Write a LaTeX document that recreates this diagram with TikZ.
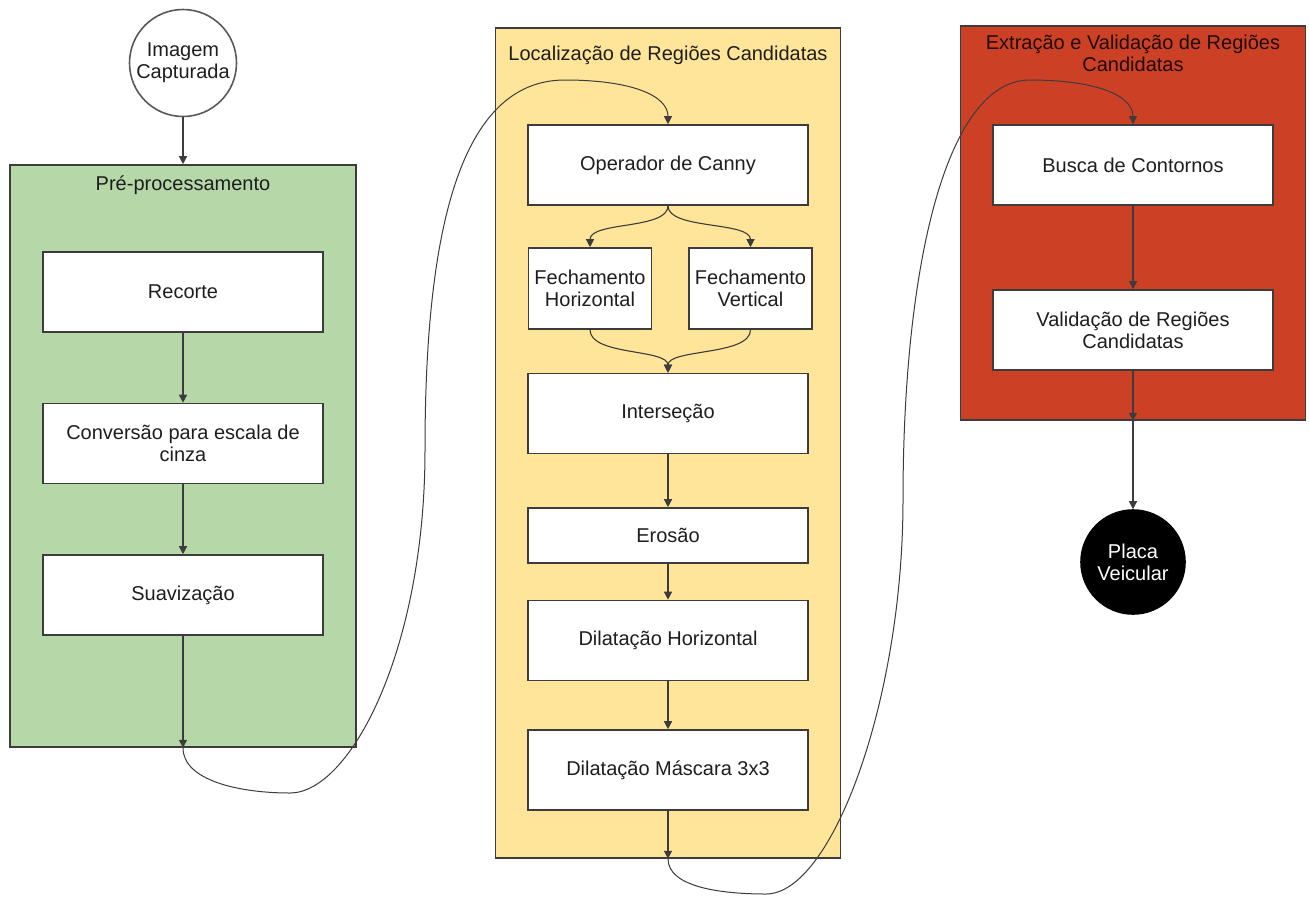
\documentclass[tikz,border=0pt]{standalone}
\usepackage{fontspec}
\setmainfont{Liberation Sans}
\usetikzlibrary{arrows.meta}
\definecolor{grn}{HTML}{B6D7A8}
\definecolor{ylw}{HTML}{FFE599}
\definecolor{rdb}{HTML}{CC4125}
\definecolor{edge}{HTML}{3C3C3C}
\definecolor{txt}{HTML}{1E1E1E}
\tikzset{
  group/.style={draw=edge, line width=1.6pt, rectangle, inner sep=0pt},
  grouptitle/.style={text=txt, font=\fontsize{20}{22}\selectfont, align=center, inner sep=0pt},
  stepbox/.style={draw=edge, line width=1.6pt, fill=white, rectangle, minimum width=280pt, minimum height=80pt, inner sep=2pt, text=txt, font=\fontsize{20}{22}\selectfont, align=center},
  smallbox/.style={stepbox, minimum width=123pt, minimum height=81pt, inner sep=0pt},
  terminal/.style={circle, line width=1.6pt, minimum size=107pt, inner sep=0pt, font=\fontsize{20}{22}\selectfont, align=center},
  flow/.style={draw=edge, line width=1.3pt, -{Triangle[length=8pt,width=8pt]}},
  curvy/.style={draw=edge, line width=1pt, -{Triangle[length=8pt,width=8pt]}},
}
\begin{document}
\begin{tikzpicture}[x=1pt, y=-1pt]
\useasboundingbox[fill=white] (0,0) rectangle (1309,903);

% groups
\node[group, fill=grn, minimum width=346pt, minimum height=582pt] (green) at (183,456) {};
\node[group, fill=ylw, minimum width=345pt, minimum height=830pt] (yellow) at (668,443) {};
\node[group, fill=rdb, minimum width=345pt, minimum height=394pt] (red) at (1133,223) {};

\node[grouptitle] (gt) at (183,185) {Pré-processamento};
\node[grouptitle] (yt) at (668,55) {Localização de Regiões Candidatas};
\node[grouptitle, text=black!85!rdb] (rt) at (1133,53) {Extração e Validação de Regiões\\Candidatas};

% terminals
\node[terminal, draw=black!65, fill=white, text=txt] (img) at (183,63) {Imagem\\Capturada};
\node[terminal, draw=black, fill=black, text=white, minimum size=104pt] (placa) at (1133,562) {Placa\\Veicular};

% pre-processing
\node[stepbox] (recorte) at (183,292) {Recorte};
\node[stepbox] (conv) at (183,443.5) {Conversão para escala de\\cinza};
\node[stepbox] (suav) at (183,595) {Suavização};

% localization
\node[stepbox] (canny) at (668,165) {Operador de Canny};
\node[smallbox] (fechH) at (590,288.5) {Fechamento\\Horizontal};
\node[smallbox] (fechV) at (750.5,288.5) {Fechamento\\Vertical};
\node[stepbox] (inter) at (668,413.5) {Interseção};
\node[stepbox, minimum height=55pt] (eros) at (668,535.5) {Erosão};
\node[stepbox] (dilH) at (668,640.5) {Dilatação Horizontal};
\node[stepbox] (dilM) at (668,770) {Dilatação Máscara 3x3};

% extraction
\node[stepbox] (busca) at (1133,165) {Busca de Contornos};
\node[stepbox] (valid) at (1133,330) {Validação de Regiões\\Candidatas};

% straight connectors
\draw[flow] (img.south) -- (green.north);
\draw[flow] (recorte.south) -- (conv.north);
\draw[flow] (conv.south) -- (suav.north);
\draw[flow] (suav.south) -- (green.south);
\draw[flow] (inter.south) -- (eros.north);
\draw[flow] (eros.south) -- (dilH.north);
\draw[flow] (dilH.south) -- (dilM.north);
\draw[flow] (dilM.south) -- (yellow.south);
\draw[flow] (busca.south) -- (valid.north);
\draw[flow] (valid.south) -- (red.south);
\draw[flow] (red.south) -- (placa.north);

% split and merge
\draw[flow, line width=1.1pt] (canny.south) .. controls +(0,24) and +(0,-26) .. (fechH.north);
\draw[flow, line width=1.1pt] (canny.south) .. controls +(0,24) and +(0,-26) .. (fechV.north);
\draw[flow, line width=1.1pt] (fechH.south) .. controls +(0,26) and +(0,-24) .. (inter.north);
\draw[flow, line width=1.1pt] (fechV.south) .. controls +(0,26) and +(0,-24) .. (inter.north);

% long curved connectors
\draw[curvy] (green.south) .. controls +(0,33) and (240,793) .. (290,793)
  .. controls (350,793) and (425,650) .. (425,450)
  .. controls (425,230) and (460,80) .. (565,80)
  .. controls (630,80) and (668,95) .. (canny.north);
\draw[curvy] (yellow.south) .. controls +(0,28) and (720,894) .. (766,894)
  .. controls (832,894) and (903,700) .. (903,500)
  .. controls (903,270) and (945,80) .. (1030,80)
  .. controls (1095,80) and (1133,95) .. (busca.north);
\end{tikzpicture}
\end{document}
